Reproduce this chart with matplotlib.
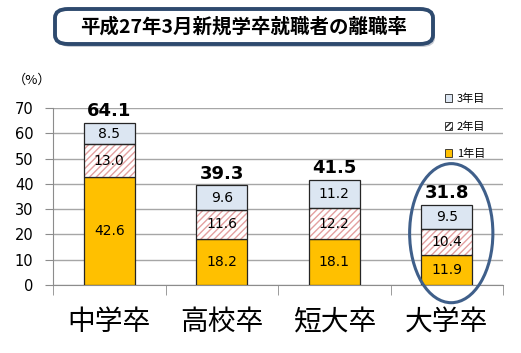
import matplotlib
matplotlib.use("Agg")
import matplotlib.pyplot as plt
from matplotlib.patches import FancyBboxPatch, Ellipse, Patch
import numpy as np

plt.rcParams['font.family'] = ['Noto Sans CJK JP', 'DejaVu Sans']
plt.rcParams['hatch.linewidth'] = 1.0

# データ
categories = ['中学卒', '高校卒', '短大卒', '大学卒']
year1 = [42.6, 18.2, 18.1, 11.9]
year2 = [13.0, 11.6, 12.2, 10.4]
year3 = [8.5, 9.6, 11.2, 9.5]
totals = [64.1, 39.3, 41.5, 31.8]
series_names = ['1年目', '2年目', '3年目']
yticks = [0, 10, 20, 30, 40, 50, 60, 70]
title = '平成27年3月新規学卒就職者の離職率'

c1 = '#FFC000'
c3 = '#DCE6F2'
hatch_c = '#E3A0A0'
edge_c = '#262626'

fig = plt.figure(figsize=(5.21, 3.53), dpi=100)
ax = fig.add_axes([53 / 521, 1 - 285 / 353, 450 / 521, 177 / 353])

x = np.arange(len(categories))
w = 0.45
b2 = np.array(year1)
b3 = b2 + np.array(year2)

ax.bar(x, year1, w, color=c1, edgecolor=edge_c, linewidth=0.9, zorder=3)
ax.bar(x, year2, w, bottom=b2, color='white', edgecolor=hatch_c, hatch='/////',
       linewidth=0, zorder=3)
ax.bar(x, year2, w, bottom=b2, fill=False, edgecolor=edge_c, linewidth=0.9, zorder=4)
ax.bar(x, year3, w, bottom=b3, color=c3, edgecolor=edge_c, linewidth=0.9, zorder=3)

# 数値ラベル
for i in range(len(categories)):
    ax.text(x[i], year1[i] / 2, f'{year1[i]:.1f}', ha='center', va='center',
            fontsize=10, zorder=5, family='DejaVu Sans')
    ax.text(x[i], b2[i] + year2[i] / 2, f'{year2[i]:.1f}', ha='center', va='center',
            fontsize=10, zorder=5, family='DejaVu Sans')
    ax.text(x[i], b3[i] + year3[i] / 2, f'{year3[i]:.1f}', ha='center', va='center',
            fontsize=10, zorder=5, family='DejaVu Sans')
    ax.text(x[i], totals[i] + 1.2, f'{totals[i]:.1f}', ha='center', va='bottom',
            fontsize=13, fontweight='bold', zorder=5, clip_on=False, family='DejaVu Sans')

ax.set_xlim(-0.5, 3.5)
ax.set_ylim(0, 70)
ax.set_yticks(yticks)
ax.tick_params(axis='y', labelsize=10.5, length=6, color='#8C8C8C', pad=8)
ax.set_yticklabels([str(t) for t in yticks], family='DejaVu Sans')
ax.set_xticks(x)
ax.set_xticklabels(categories, fontsize=20)
ax.tick_params(axis='x', length=0, pad=16)
ax.set_xticks(np.arange(-0.5, 4.0, 1.0), minor=True)
ax.tick_params(axis='x', which='minor', length=7, color='#8C8C8C')
ax.grid(axis='y', color='#A6A6A6', linewidth=1.0, zorder=0)
ax.set_axisbelow(True)
for s in ['top', 'right']:
    ax.spines[s].set_visible(False)
ax.spines['left'].set_color('#8C8C8C')
ax.spines['bottom'].set_color('#8C8C8C')

# 凡例
handles = [Patch(facecolor=c3, edgecolor=edge_c, linewidth=0.6),
           Patch(facecolor='white', edgecolor=edge_c, hatch='/////', linewidth=0.6),
           Patch(facecolor=c1, edgecolor=edge_c, linewidth=0.6)]
leg = fig.legend(handles, series_names[::-1], loc='upper left',
                 bbox_to_anchor=(439 / 521, 1 - 88 / 353), frameon=False,
                 fontsize=8, handlelength=0.7, handleheight=0.7,
                 handletextpad=0.4, labelspacing=1.55, borderpad=0)

# 大学卒を囲む楕円
ell = Ellipse((3.04, 20.5), width=0.74, height=55, fill=False, edgecolor='#3F5F8A',
              linewidth=2.2, clip_on=False, zorder=6)
ax.add_patch(ell)

# (%)
fig.text(13 / 521, 1 - 80 / 353, '（%）', fontsize=9.5, va='center', ha='left')

# タイトル枠
shadow = FancyBboxPatch((58 / 521, 1 - 47 / 353), 377 / 521, 34 / 353,
                        boxstyle='round,pad=0,rounding_size=0.025',
                        transform=fig.transFigure, facecolor='#C8CCD4',
                        edgecolor='none', zorder=1)
fig.patches.append(shadow)
box = FancyBboxPatch((55 / 521, 1 - 44 / 353), 378 / 521, 35 / 353,
                     boxstyle='round,pad=0,rounding_size=0.025',
                     transform=fig.transFigure, facecolor='white',
                     edgecolor='#2E4A6E', linewidth=2.8, zorder=2)
fig.patches.append(box)
fig.text(244 / 521, 1 - 27 / 353, title, fontsize=14, fontweight='bold',
         ha='center', va='center', zorder=3)

fig.savefig('out.png', dpi=100)
